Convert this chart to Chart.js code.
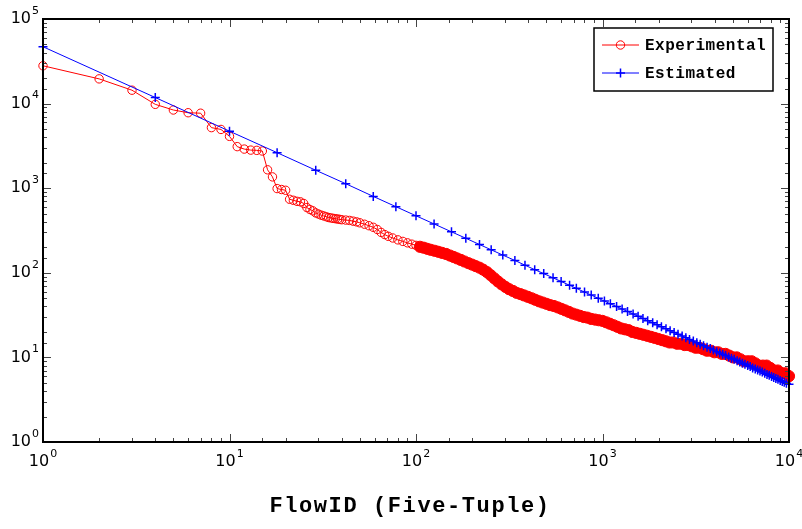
<!DOCTYPE html>
<html>
<head>
<meta charset="utf-8">
<script src="https://cdn.jsdelivr.net/npm/chart.js@4.4.1/dist/chart.umd.min.js"></script>
<style>
  html, body { margin: 0; padding: 0; background: #fff; }
  canvas { display: block; }
</style>
</head>
<body>
<canvas id="c" width="802" height="529"></canvas>
<script>
// ranks of the measured flows (each point is one flow id)
var expRanks = [1, 2, 3, 4, 5, 6, 7, 8, 9, 10, 11, 12, 13, 14, 15, 16, 17, 18, 19, 20,
    21, 22, 23, 24, 25, 26, 27, 28, 29, 30, 31, 32, 33, 34, 35, 36, 37, 38, 39, 40,
    42, 44, 46, 48, 50, 53, 56, 59, 62, 65, 68, 71, 75, 80, 85, 90, 95, 100,
    105, 110, 115, 120, 126, 132, 138, 145, 152, 159, 166, 174, 182, 191, 200, 209, 219, 229,
    240, 251, 263, 275, 288, 302, 316, 331, 346, 363, 380, 398, 417, 436, 457, 478, 501, 524,
    549, 575, 602, 630, 660, 691, 724, 758, 794, 831, 870, 912, 955, 1000, 1047, 1096, 1148,
    1202, 1259, 1318, 1380, 1445, 1514, 1585, 1660, 1738, 1820, 1905, 1995, 2089, 2188, 2291,
    2399, 2512, 2630, 2754, 2884, 3020, 3162, 3311, 3467, 3631, 3802, 3981, 4169, 4365, 4571,
    4786, 5012, 5248, 5495, 5754, 6026, 6310, 6607, 6918, 7244, 7586, 7943, 8318, 8710, 9120,
    9550, 10000]
var expCounts = [28000, 19600, 14400, 9800, 8400, 7800, 7700, 5200, 4950, 4100, 3100, 2900, 2820, 2800, 2750, 1650, 1360, 990, 965, 945,
    740, 720, 700, 690, 660, 590, 560, 540, 510, 495, 480, 470, 460, 450, 445, 440, 436, 432, 428, 424,
    420, 416, 408, 400, 390, 375, 360, 345, 325, 300, 283, 270, 258, 245, 235, 226, 218, 211,
    203, 198, 192, 187, 182, 177, 172, 167, 160, 154, 148, 142, 136, 130, 125, 120, 115, 109,
    102, 94, 86, 79, 73, 68, 64, 61, 58, 56, 54, 52, 50, 48, 46, 44.5, 43, 41.5,
    40.5, 39, 37.5, 36, 34.5, 33, 32, 31, 30, 29.5, 28.5, 28, 27.5, 27, 26, 25, 24,
    23, 22, 21.5, 21, 20, 19.5, 19, 18.5, 18, 17.5, 17, 16.5, 16, 15.5, 15,
    15, 14.5, 14.5, 14, 14, 13.5, 13, 13, 12.5, 12, 12, 11.5, 11.5, 11, 11,
    10.5, 10, 10, 9.5, 9, 9, 9, 8.5, 8, 8, 8, 7.5, 7, 7, 6.5,
    6.5, 6]

// estimated power-law curve, marker positions
var estRanks = [1, 4, 10, 18, 29, 42, 59, 78, 100, 125, 155, 185, 219, 253, 292, 339, 384, 433, 484, 543,
    600, 666, 724, 801, 870, 949, 1024, 1102, 1190, 1274, 1362, 1459, 1552, 1648, 1747, 1858, 1962,
    2070, 2190, 2304, 2421, 2540, 2673, 2798, 2927, 3069, 3204, 3341, 3481, 3636, 3782, 3931, 4096,
    4251, 4409, 4570, 4747, 4914, 5084, 5271, 5446, 5625, 5806, 6006, 6194, 6384, 6593, 6790, 6989,
    7191, 7413, 7621, 7832, 8064, 8281, 8501, 8724, 8968, 9197, 9428, 9683, 10000]
var estCounts = [47000, 11800, 4720, 2630, 1630, 1130, 800, 605, 472, 378, 305, 256, 216, 187, 162, 140, 123, 109, 97.8, 87.2,
    79, 71.2, 65.5, 59.2, 54.5, 50, 46.3, 43, 39.9, 37.3, 34.9, 32.6, 30.6, 28.9, 27.2, 25.6, 24.3,
    23, 21.8, 20.7, 19.7, 18.8, 17.9, 17.1, 16.3, 15.6, 14.9, 14.3, 13.7, 13.2, 12.7, 12.2, 11.7,
    11.3, 10.9, 10.5, 10.1, 9.8, 9.5, 9.1, 8.8, 8.5, 8.3, 8.0, 7.8, 7.5, 7.3, 7.1, 6.9,
    6.7, 6.5, 6.3, 6.15, 5.95, 5.8, 5.65, 5.5, 5.35, 5.2, 5.1, 4.95, 4.8]

var seriesNames = ['Experimental', 'Estimated']
var xTitle = 'FlowID (Five-Tuple)'

function pairs(xs, ys) {
    return xs.map(function(x, i) { return {x: x, y: ys[i]} })
}

function isDecade(v) {
    var l = Math.log10(v)
    return Math.abs(l - Math.round(l)) < 1e-9
}

function drawPower(ctx, exp, x, y, align) {
    ctx.font = '16px "DejaVu Sans"'
    var wb = ctx.measureText('10').width
    ctx.font = '11px "DejaVu Sans"'
    var ws = ctx.measureText(String(exp)).width
    var total = wb + 1 + ws
    var left = align == 'right' ? x - total : x - total / 2
    ctx.textAlign = 'left'
    ctx.textBaseline = 'middle'
    ctx.font = '16px "DejaVu Sans"'
    ctx.fillText('10', left, y)
    ctx.font = '11px "DejaVu Sans"'
    ctx.fillText(String(exp), left + wb + 1, y - 8)
}

function drawMarker(ctx, style, x, y) {
    ctx.beginPath()
    if (style == 'circle') {
        ctx.arc(x, y, 4.2, 0, 2 * Math.PI)
    } else {
        ctx.moveTo(x - 4.5, y); ctx.lineTo(x + 4.5, y)
        ctx.moveTo(x, y - 4.5); ctx.lineTo(x, y + 4.5)
    }
    ctx.stroke()
}

// box, inward ticks, power-of-ten labels, legend and axis title
var matlabFrame = {
    id: 'matlabFrame',
    afterDraw: function(chart) {
        var ctx = chart.ctx
        var a = chart.chartArea
        var xs = chart.scales.x
        var ys = chart.scales.y
        ctx.save()

        ctx.strokeStyle = '#444'
        ctx.lineWidth = 1
        ctx.beginPath()
        xs.ticks.forEach(function(t) {
            var px = Math.round(xs.getPixelForValue(t.value)) + 0.5
            var len = isDecade(t.value) ? 8 : 4
            ctx.moveTo(px, a.bottom); ctx.lineTo(px, a.bottom - len)
            ctx.moveTo(px, a.top); ctx.lineTo(px, a.top + len)
        })
        ys.ticks.forEach(function(t) {
            var py = Math.round(ys.getPixelForValue(t.value)) + 0.5
            var len = isDecade(t.value) ? 8 : 4
            ctx.moveTo(a.left, py); ctx.lineTo(a.left + len, py)
            ctx.moveTo(a.right, py); ctx.lineTo(a.right - len, py)
        })
        ctx.stroke()

        ctx.strokeStyle = '#000'
        ctx.lineWidth = 2
        ctx.strokeRect(a.left, a.top, a.right - a.left, a.bottom - a.top)

        ctx.fillStyle = '#000'
        xs.ticks.forEach(function(t) {
            if (isDecade(t.value)) {
                drawPower(ctx, Math.round(Math.log10(t.value)), xs.getPixelForValue(t.value), a.bottom + 20, 'center')
            }
        })
        ys.ticks.forEach(function(t) {
            if (isDecade(t.value)) {
                drawPower(ctx, Math.round(Math.log10(t.value)), a.left - 4, ys.getPixelForValue(t.value), 'right')
            }
        })

        // legend
        var lx = 594, ly = 28, lw = 179, lh = 63
        ctx.fillStyle = '#fff'
        ctx.fillRect(lx, ly, lw, lh)
        ctx.strokeStyle = '#000'
        ctx.lineWidth = 1.5
        ctx.strokeRect(lx, ly, lw, lh)
        var rows = [45, 73]
        var styles = ['circle', 'cross']
        chart.data.datasets.forEach(function(ds, i) {
            var y = rows[i]
            ctx.strokeStyle = ds.borderColor
            ctx.lineWidth = 1
            ctx.beginPath()
            ctx.moveTo(602, y); ctx.lineTo(639, y)
            ctx.stroke()
            ctx.lineWidth = i == 0 ? 1 : 1.5
            drawMarker(ctx, styles[i], 620.5, y)
            ctx.fillStyle = '#000'
            ctx.font = 'bold 16px "Liberation Mono"'
            ctx.letterSpacing = '0.5px'
            ctx.textAlign = 'left'
            ctx.textBaseline = 'middle'
            ctx.fillText(ds.label, 645, y + 1)
        })

        ctx.font = 'bold 22px "Liberation Mono"'
        ctx.letterSpacing = '1.6px'
        ctx.textAlign = 'center'
        ctx.textBaseline = 'middle'
        ctx.fillText(xTitle, 410, 506)
        ctx.restore()
    }
}

var red = 'rgb(255,0,0)'
var blue = 'rgb(0,0,255)'

new Chart(document.getElementById('c'), {
    type: 'line',
    data: {
        datasets: [
            {
                label: seriesNames[0],
                data: pairs(expRanks, expCounts),
                borderColor: red,
                borderWidth: 1,
                pointStyle: 'circle',
                pointBorderColor: red,
                pointBorderWidth: 1,
                pointRadius: function(c) { return (c.raw && c.raw.x > 100) ? 5.6 : 4.2 },
                pointBackgroundColor: function(c) { return (c.raw && c.raw.x > 100) ? red : 'rgba(0,0,0,0)' },
                clip: false,
                order: 1,
            },
            {
                label: seriesNames[1],
                data: pairs(estRanks, estCounts),
                borderColor: blue,
                borderWidth: 1,
                pointStyle: 'cross',
                pointBorderColor: blue,
                pointBorderWidth: 1.5,
                pointRadius: 4.5,
                clip: false,
                order: 0,
            },
        ],
    },
    options: {
        responsive: false,
        animation: false,
        devicePixelRatio: 1,
        layout: { padding: { top: 19, right: 13, left: 0, bottom: 0 } },
        elements: { line: { tension: 0 } },
        scales: {
            x: {
                type: 'logarithmic',
                min: 1,
                max: 10000,
                grid: { display: false },
                border: { display: false },
                ticks: { display: false, autoSkip: false },
                afterFit: function(s) { s.height = 87 },
            },
            y: {
                type: 'logarithmic',
                min: 1,
                max: 100000,
                grid: { display: false },
                border: { display: false },
                ticks: { display: false, autoSkip: false },
                afterFit: function(s) { s.width = 43 },
            },
        },
        plugins: {
            legend: { display: false },
            tooltip: { enabled: false },
        },
    },
    plugins: [matlabFrame],
})
</script>
</body>
</html>
